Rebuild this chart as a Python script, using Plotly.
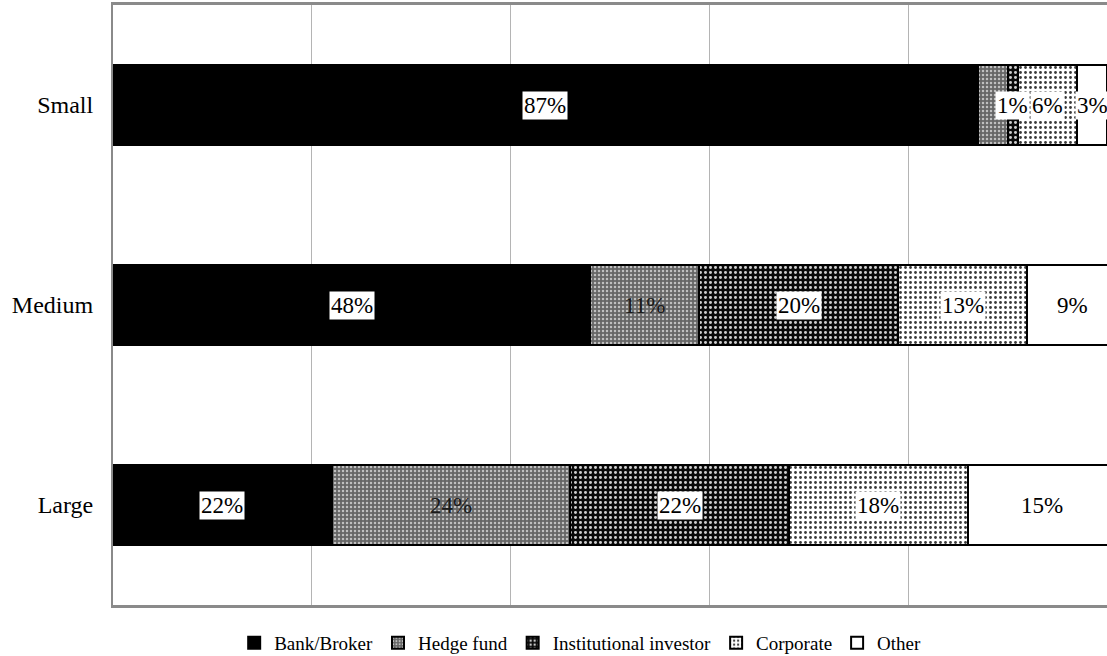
import plotly.graph_objects as go

# Firm size categories (top to bottom) and buyer type shares (%)
categories = ["Small", "Medium", "Large"]
series_names = ["Bank/Broker", "Hedge fund", "Institutional investor", "Corporate", "Other"]
bank_broker = [87, 48, 22]
hedge_fund = [3, 11, 24]
institutional = [1, 20, 22]
corporate = [6, 13, 18]
other = [3, 9, 15]
# Which segments carry a printed value label
show_label = {
    "Bank/Broker": [True, True, True],
    "Hedge fund": [False, True, True],
    "Institutional investor": [True, True, True],
    "Corporate": [True, True, True],
    "Other": [True, True, True],
}

values = [bank_broker, hedge_fund, institutional, corporate, other]

styles = {
    "Bank/Broker": dict(color="#000000", pattern=None),
    "Hedge fund": dict(color="#808080", pattern=dict(shape=".", size=4, solidity=0.3,
                                                      fgcolor="#c0c0c0", bgcolor="#666666",
                                                      fillmode="replace")),
    "Institutional investor": dict(color="#000000", pattern=dict(shape=".", size=5, solidity=0.28,
                                                                  fgcolor="#cfcfcf", bgcolor="#0a0a0a",
                                                                  fillmode="replace")),
    "Corporate": dict(color="#ffffff", pattern=dict(shape=".", size=5, solidity=0.25,
                                                     fgcolor="#3a3a3a", bgcolor="#ffffff",
                                                     fillmode="replace")),
    "Other": dict(color="#ffffff", pattern=None),
}

FONT = "Liberation Serif"

fig = go.Figure()
for name, vals in zip(series_names, values):
    st = styles[name]
    marker = dict(color=st["color"], line=dict(color="#000000", width=2))
    if st["pattern"]:
        marker["pattern"] = st["pattern"]
    fig.add_trace(go.Bar(
        y=categories, x=vals, name=name, orientation="h",
        marker=marker, width=0.4,
    ))

# Value labels centred in each segment
annotations = []
cum = [0, 0, 0]
for name, vals in zip(series_names, values):
    for i, v in enumerate(vals):
        mid = cum[i] + v / 2
        cum[i] += v
        if not show_label[name][i]:
            continue
        boxed = name != "Hedge fund"
        annotations.append(dict(
            x=mid, y=categories[i], xref="x", yref="y",
            text=f"{v}%", showarrow=False,
            font=dict(family=FONT, size=23, color="#000000" if boxed else "#1a1a1a"),
            bgcolor="#ffffff" if boxed else "rgba(0,0,0,0)",
            borderpad=1,
        ))

fig.update_layout(
    barmode="stack",
    width=1107, height=656,
    margin=dict(l=113, r=0, t=5, b=51, autoexpand=False),
    paper_bgcolor="#ffffff", plot_bgcolor="#ffffff",
    font=dict(family=FONT, size=20, color="#000000"),
    showlegend=True,
    legend=dict(orientation="h", x=0.47, xanchor="center", y=-0.063, yanchor="middle",
                font=dict(family=FONT, size=19, color="#000000"),
                itemwidth=30, traceorder="normal"),
    annotations=annotations,
    bargap=0.6,
)
fig.update_xaxes(range=[0, 100], dtick=20, showticklabels=False,
                 showgrid=True, gridcolor="#b4b4b4", gridwidth=1,
                 showline=True, linecolor="#8a8a8a", linewidth=3, mirror=True,
                 zeroline=False, ticks="")
fig.update_yaxes(categoryorder="array", categoryarray=categories[::-1],
                 showline=True, linecolor="#8a8a8a", linewidth=2,
                 ticks="", ticklabelstandoff=13,
                 tickfont=dict(family=FONT, size=24, color="#000000"))

fig.write_html("out.html")
